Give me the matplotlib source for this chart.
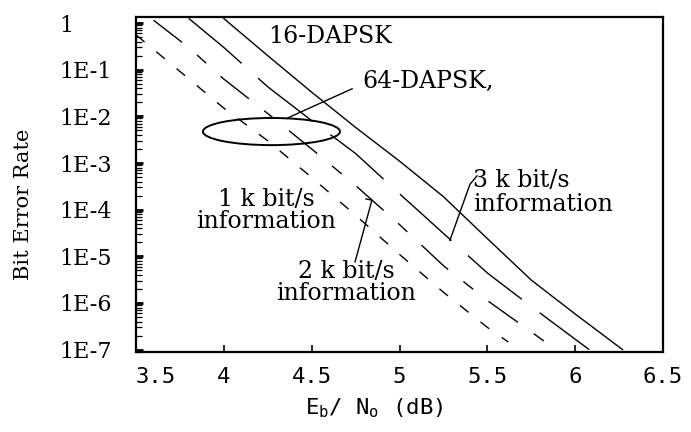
import matplotlib
matplotlib.use("Agg")
import matplotlib.pyplot as plt
from matplotlib.patches import Ellipse
from matplotlib.ticker import FixedLocator, LogLocator, NullFormatter

# Eb/No (dB) vs bit error rate, one curve per data rate
ebno_1k = [3.5, 3.75, 4.0, 4.25, 4.5, 4.75, 5.0, 5.25, 5.5, 5.62]
ber_1k = [0.56, 0.092, 0.015, 3.0e-3, 4.9e-4, 7.6e-5, 1.1e-5, 1.7e-6, 3.0e-7, 1.45e-7]

ebno_2k = [3.6, 3.8, 4.0, 4.25, 4.5, 4.75, 5.0, 5.25, 5.5, 5.75, 5.89]
ber_2k = [1.15, 0.30, 0.063, 1.15e-2, 2.0e-3, 3.3e-4, 4.8e-5, 6.3e-6, 1.13e-6, 2.4e-7, 1.0e-7]

ebno_3k = [3.8, 4.0, 4.25, 4.5, 4.75, 5.0, 5.25, 5.5, 5.75, 6.0, 6.08]
ber_3k = [1.26, 0.30, 4.3e-2, 8.1e-3, 1.6e-3, 2.2e-4, 3.1e-5, 4.4e-6, 8.4e-7, 1.67e-7, 1.0e-7]

ebno_16 = [4.0, 4.25, 4.5, 4.75, 5.0, 5.25, 5.5, 5.75, 6.0, 6.27]
ber_16 = [1.25, 0.20, 3.3e-2, 5.8e-3, 1.1e-3, 1.9e-4, 2.4e-5, 3.1e-6, 5.8e-7, 1.0e-7]

x_ticks = [3.5, 4.0, 4.5, 5.0, 5.5, 6.0, 6.5]
x_ticklabels = ["3.5", "4", "4.5", "5", "5.5", "6", "6.5"]
y_ticks = [1, 1e-1, 1e-2, 1e-3, 1e-4, 1e-5, 1e-6, 1e-7]
y_ticklabels = ["1", "1E-1", "1E-2", "1E-3", "1E-4", "1E-5", "1E-6", "1E-7"]

# leader lines for the labels (x in dB, y in BER)
lead_64_x = [4.73, 4.365]
lead_64_y = [0.039, 9.3e-3]
lead_2k_x = [4.809, 4.843, 4.747]
lead_2k_y = [1.7e-4, 1.6e-4, 7.6e-6]
lead_3k_x = [5.441, 5.401, 5.287]
lead_3k_y = [5.3e-4, 3.5e-4, 2.2e-5]

plt.rcParams["mathtext.fontset"] = "custom"
plt.rcParams["mathtext.rm"] = "DejaVu Sans Mono"

serif = "DejaVu Serif"
mono = "DejaVu Sans Mono"

fig = plt.figure(figsize=(6.91, 4.32), dpi=100)
ax = fig.add_axes([0.1968, 0.1852, 0.7627, 0.7755])

ax.plot(ebno_1k, ber_1k, color="black", lw=1.0, dashes=(8, 11))
ax.plot(ebno_2k, ber_2k, color="black", lw=1.0, dashes=(26, 14, 9, 14))
ax.plot(ebno_3k, ber_3k, color="black", lw=1.0, dashes=(50, 16))
ax.plot(ebno_16, ber_16, color="black", lw=1.0)

ax.set_yscale("log")
ax.set_xlim(3.5, 6.5)
ax.set_ylim(8.9e-8, 1.35)

ax.xaxis.set_major_locator(FixedLocator(x_ticks))
ax.set_xticklabels(x_ticklabels, fontfamily=mono, fontsize=16)
ax.get_xticklabels()[0].set_horizontalalignment("left")
ax.yaxis.set_major_locator(FixedLocator(y_ticks))
ax.set_yticklabels(y_ticklabels, fontfamily=serif, fontsize=16, ha="left")
ax.yaxis.set_minor_locator(LogLocator(base=10, subs=range(2, 10), numticks=20))
ax.yaxis.set_minor_formatter(NullFormatter())

ax.tick_params(axis="x", which="major", direction="in", length=5, width=1.2, pad=11)
ax.tick_params(axis="y", which="major", direction="in", length=5, width=2.0, pad=55)
ax.tick_params(axis="y", which="minor", direction="in", length=4, width=0.9)

for side in ["left", "bottom", "top", "right"]:
    ax.spines[side].set_linewidth(1.6)

ax.set_xlabel(r"E$_\mathrm{b}$/ N$_\mathrm{o}$ (dB)", fontfamily=mono, fontsize=16)
ax.xaxis.set_label_coords(0.452, -0.132)
ax.set_ylabel("Bit Error Rate", fontfamily=serif, fontsize=15)
ax.yaxis.set_label_coords(-0.196, 0.442)

txt = dict(fontfamily=serif, fontsize=17, color="black")
ax.text(4.251, 0.51, "16-DAPSK", ha="left", va="center", **txt)
ax.text(4.787, 0.055, "64-DAPSK,", ha="left", va="center", **txt)
ax.text(4.24, 9.4e-5, "1 k bit/s\ninformation", ha="center", va="center",
        linespacing=0.95, **txt)
ax.text(4.695, 2.7e-6, "2 k bit/s\ninformation", ha="center", va="center",
        linespacing=0.95, **txt)
ax.text(5.418, 2.3e-4, "3 k bit/s\ninformation", ha="left", va="center",
        linespacing=1.05, **txt)

ax.plot(lead_64_x, lead_64_y, color="black", lw=1.0)
ax.plot(lead_2k_x, lead_2k_y, color="black", lw=1.0)
ax.plot(lead_3k_x, lead_3k_y, color="black", lw=1.0)

ax.add_patch(Ellipse((0.257, 0.658), 0.26, 0.081, transform=ax.transAxes,
                     fill=False, edgecolor="black", lw=1.4))

fig.savefig("out.png", dpi=100)
